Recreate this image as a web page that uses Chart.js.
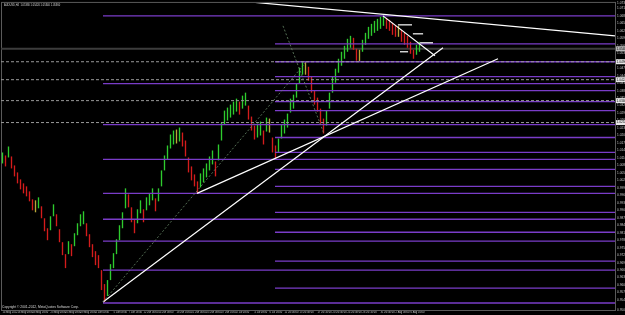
<!DOCTYPE html>
<html><head><meta charset="utf-8">
<script src="https://cdn.jsdelivr.net/npm/chart.js@4.4.0/dist/chart.umd.min.js"></script>
<style>html,body{margin:0;padding:0;background:#000;overflow:hidden}#wrap{width:625px;height:315px}</style>
</head><body><div id="wrap"><canvas id="c"></canvas></div>
<script>
const symbolTitle = "AUDUSD,H4  1.05380 1.05420 1.05340 1.05360";
const copyrightText = "Copyright \u00a9 2001-2012, MetaQuotes Software Corp.";

// H4 bars: high / low prices
const barHighs = [1.0132,1.0120,1.0156,1.0116,1.0080,1.0052,1.0024,1.0008,0.9996,0.9976,
0.9944,0.9940,0.9952,0.9916,0.9868,0.9828,0.9876,0.9924,0.9884,0.9824,
0.9772,0.9724,0.9776,0.9764,0.9808,0.9848,0.9884,0.9896,0.9848,0.9804,
0.9764,0.9736,0.9720,0.9660,0.9604,0.9620,0.9684,0.9728,0.9784,0.9840,
0.9892,0.9988,0.9964,0.9912,0.9864,0.9904,0.9940,0.9904,0.9952,0.9968,
0.9988,0.9948,0.9988,1.0060,1.0120,1.0160,1.0204,1.0220,1.0224,1.0232,
1.0212,1.0180,1.0112,1.0076,1.0044,1.0016,1.0048,1.0068,1.0088,1.0116,
1.0140,1.0096,1.0164,1.0252,1.0300,1.0312,1.0324,1.0336,1.0348,1.0336,
1.0360,1.0372,1.0320,1.0276,1.0240,1.0248,1.0256,1.0220,1.0272,1.0268,
1.0192,1.0160,1.0188,1.0244,1.0264,1.0288,1.0348,1.0364,1.0408,1.0472,
1.0496,1.0496,1.0476,1.0436,1.0380,1.0352,1.0308,1.0268,1.0300,1.0372,
1.0436,1.0468,1.0508,1.0536,1.0560,1.0588,1.0600,1.0592,1.0548,1.0544,
1.0584,1.0612,1.0636,1.0648,1.0660,1.0668,1.0676,1.0680,1.0672,1.0664,
1.0652,1.0644,1.0640,1.0624,1.0612,1.0600,1.0576,1.0544,1.0564,1.0576];
const barLows = [1.0088,1.0076,1.0112,1.0068,1.0036,1.0008,0.9984,0.9968,0.9956,0.9936,
0.9900,0.9892,0.9908,0.9868,0.9816,0.9780,0.9820,0.9876,0.9836,0.9772,
0.9720,0.9668,0.9724,0.9716,0.9756,0.9800,0.9836,0.9844,0.9796,0.9752,
0.9712,0.9680,0.9668,0.9580,0.9532,0.9556,0.9620,0.9668,0.9724,0.9780,
0.9828,0.9908,0.9912,0.9852,0.9808,0.9848,0.9888,0.9852,0.9900,0.9920,
0.9940,0.9896,0.9936,0.9996,1.0060,1.0104,1.0148,1.0164,1.0168,1.0176,
1.0156,1.0116,1.0052,1.0020,0.9996,0.9968,0.9992,1.0012,1.0032,1.0060,
1.0084,1.0036,1.0100,1.0180,1.0244,1.0260,1.0272,1.0284,1.0296,1.0284,
1.0308,1.0320,1.0264,1.0220,1.0184,1.0192,1.0200,1.0164,1.0216,1.0212,
1.0132,1.0108,1.0132,1.0188,1.0208,1.0232,1.0292,1.0308,1.0352,1.0408,
1.0444,1.0444,1.0420,1.0372,1.0324,1.0296,1.0248,1.0208,1.0240,1.0308,
1.0372,1.0412,1.0452,1.0480,1.0508,1.0536,1.0552,1.0544,1.0500,1.0496,
1.0536,1.0564,1.0588,1.0600,1.0612,1.0620,1.0628,1.0640,1.0628,1.0620,
1.0604,1.0596,1.0596,1.0576,1.0564,1.0552,1.0528,1.0508,1.0524,1.0536];

// time axis
const dateTickBars = [0,5,10,16,21,26,31,37,42,47,52,58,63,68,73,78,84,89,94,99,105,110,115,120,126,131,136];
const dateLabels = ["14 May 2012","16 May 08:00","18 May 16:00","23 May 00:00","25 May 08:00","29 May 16:00",
"1 Jun 00:00","5 Jun 08:00","7 Jun 16:00","12 Jun 00:00","14 Jun 08:00","18 Jun 16:00","21 Jun 00:00",
"25 Jun 08:00","27 Jun 16:00","2 Jul 00:00","4 Jul 08:00","6 Jul 16:00","11 Jul 00:00","13 Jul 08:00",
"17 Jul 16:00","20 Jul 00:00","24 Jul 08:00","26 Jul 16:00","31 Jul 00:00","2 Aug 08:00","6 Aug 16:00"];
const lastBarSlot = 204.17;

// Fibonacci set drawn from the June low
const fibLowStart = 33.5;
const fibLowLevels = [1.0680,1.0408,1.0244,1.0104,0.9968,0.9864,0.9776,0.9660,0.9528];
// Fibonacci set drawn from the July swing
const fibHighStart = 90.83;
const fibHighLevels = [1.0568,1.0496,1.0436,1.0380,1.0336,1.0300,1.0192,1.0132,1.0064,0.9996,0.9892,0.9812,0.9696,0.9588];
// dashed horizontal lines (full width)
const dashedLevels = [1.0496,1.0424,1.0340,1.0252];
const bidPrice = 1.0548;

// trend lines: [x1, price1, x2, price2]
const trendLines = [
  [82.5,1.0736,204.17,1.0600],
  [33.5,0.9532,146.83,1.0552],
  [64.83,0.9968,165.17,1.0508],
  [126.83,1.0680,144.17,1.0520],
  [131.8,1.0644,136.5,1.0644],
  [136.8,1.0608,140.2,1.0608],
  [139.2,1.0572,143.5,1.0572],
  [132.5,1.0536,135.2,1.0536]
];
const dottedLines = [
  [33.5,0.9532,101.0,1.0492],
  [93.5,1.0640,107.0,1.0212]
];

const barData = barHighs.map((h,i)=>({x:i,y:[barLows[i],h]}));
const barColors = barHighs.map((h,i)=>{
  if(i===0) return '#2ecc2e';
  const m=(h+barLows[i])/2, pm=(barHighs[i-1]+barLows[i-1])/2;
  if(Math.abs(m-pm)<0.0007) return '#b8a838';
  return m>pm ? '#2ecc2e' : '#d41c1c';
});

const PURPLE = '#7a3cc8';
const datasets = [];
datasets.push({type:'bar',data:barData,backgroundColor:barColors,borderWidth:0,barPercentage:0.45,categoryPercentage:1,order:3});
dashedLevels.forEach(p=>datasets.push({type:'line',data:[{x:-0.5,y:p},{x:lastBarSlot,y:p}],borderColor:'#9a9a9a',borderWidth:1,borderDash:[3,2],pointRadius:0,order:2}));
datasets.push({type:'line',data:[{x:-0.5,y:bidPrice},{x:lastBarSlot,y:bidPrice}],borderColor:'#3c3c3c',borderWidth:2,pointRadius:0,order:4});
fibLowLevels.forEach(p=>datasets.push({type:'line',data:[{x:fibLowStart,y:p},{x:lastBarSlot,y:p}],borderColor:PURPLE,borderWidth:1.3,pointRadius:0,order:2}));
fibHighLevels.forEach(p=>datasets.push({type:'line',data:[{x:fibHighStart,y:p},{x:lastBarSlot,y:p}],borderColor:PURPLE,borderWidth:1.3,pointRadius:0,order:2}));
dottedLines.forEach(t=>datasets.push({type:'line',data:[{x:t[0],y:t[1]},{x:t[2],y:t[3]}],borderColor:'#6a8a6a',borderWidth:0.8,borderDash:[2,2],pointRadius:0,order:1}));
trendLines.forEach(t=>datasets.push({type:'line',data:[{x:t[0],y:t[1]},{x:t[2],y:t[3]}],borderColor:'#ffffff',borderWidth:1.2,pointRadius:0,order:1}));

const extras = {
  id:'extras',
  beforeDatasetsDraw(chart){
    const {ctx,chartArea:a}=chart;
    ctx.save();
    ctx.strokeStyle='#5a5a5a';ctx.lineWidth=1;
    ctx.strokeRect(a.left+0.5,a.top-0.5,a.right-a.left,a.bottom-a.top+1);
    ctx.restore();
  },
  afterDraw(chart){
    const {ctx,chartArea:a,scales:{y}}=chart;
    ctx.save();
    ctx.fillStyle='#d8d8d8';ctx.textBaseline='top';
    ctx.font='2.6px "Liberation Sans"';
    ctx.fillText(symbolTitle,a.left+3,a.top+1);
    ctx.textBaseline='bottom';
    ctx.font='3.3px "Liberation Sans"';
    ctx.fillText(copyrightText,a.left+1,a.bottom-1);
    // price boxes on axis
    const boxes=[[bidPrice,'#b8b8b8']].concat(dashedLevels.map(p=>[p,'#e8e8e8']));
    ctx.font='3.2px "Liberation Sans"';
    boxes.forEach(([p,c])=>{
      const py=y.getPixelForValue(p);
      ctx.fillStyle=c;ctx.fillRect(a.right+1,py-2.5,12,5);
      ctx.fillStyle='#000';ctx.textBaseline='middle';ctx.fillText(p.toFixed(5),a.right+1.5,py);
    });
    ctx.restore();
  }
};

new Chart(document.getElementById('c'),{
  type:'bar',
  data:{datasets},
  plugins:[extras],
  options:{
    responsive:true,maintainAspectRatio:false,animation:false,
    layout:{padding:{left:1,top:2,right:0,bottom:0}},
    plugins:{legend:{display:false},tooltip:{enabled:false}},
    scales:{
      x:{type:'linear',min:-0.5,max:lastBarSlot,offset:false,
        afterBuildTicks(s){s.ticks=dateTickBars.map(v=>({value:v}));},
        afterFit(s){s.height=5;},
        ticks:{autoSkip:false,maxRotation:0,align:'start',padding:0,color:'#c8c8c8',font:{size:2.6,family:'Liberation Sans'},
          callback(v){const k=dateTickBars.indexOf(v);return k>=0?dateLabels[k]:'';}},
        grid:{drawOnChartArea:false,drawTicks:true,tickLength:1,color:'#777'},
        border:{color:'#777'}},
      y:{type:'linear',position:'right',min:0.95,max:1.0732,
        afterFit(s){s.width=10;},
        ticks:{stepSize:0.003,autoSkip:false,padding:1,color:'#c8c8c8',font:{size:3.2,family:'Liberation Sans'},
          callback(v){return v.toFixed(5);}},
        grid:{drawOnChartArea:false,drawTicks:true,tickLength:1,color:'#777'},
        border:{color:'#777'}}
    }
  }
});
</script></body></html>
